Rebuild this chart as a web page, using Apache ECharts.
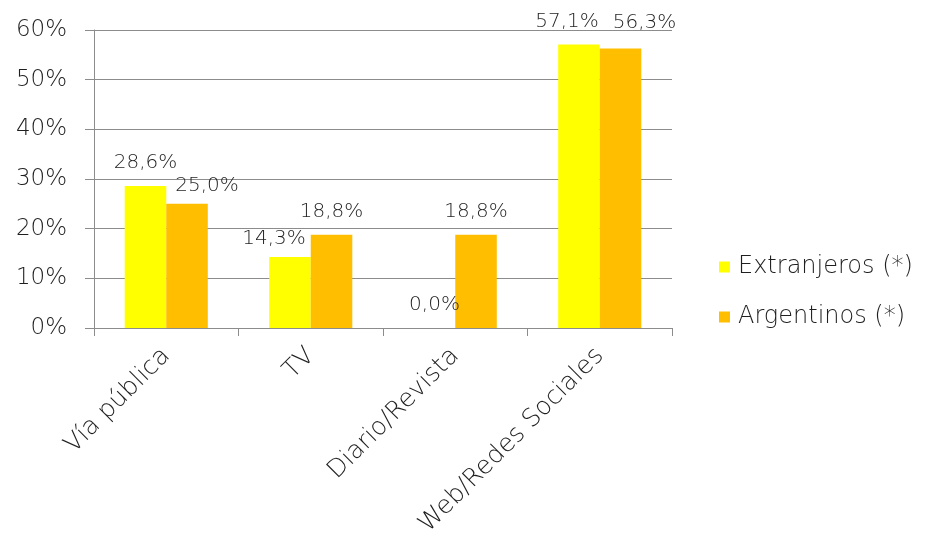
<!DOCTYPE html>
<html>
<head>
<meta charset="utf-8">
<script src="https://cdn.jsdelivr.net/npm/echarts@6/dist/echarts.min.js"></script>
<style>
  html, body { margin: 0; padding: 0; background: #fff; }
  #main { width: 929px; height: 554px; }
</style>
</head>
<body>
<div id="main"></div>
<script>
// datos del gráfico
const categories = ['Vía pública', 'TV', 'Diario/Revista', 'Web/Redes Sociales'];
const extranjeros = [28.6, 14.3, 0.0, 57.1];
const argentinos = [25.0, 18.8, 18.8, 56.3];
const yTicks = [0, 10, 20, 30, 40, 50, 60];

// desplazamiento de etiquetas (como en el original)
const extOffsets = [[0, 0], [-16, 5], [0, 0], [-12, 0]];
const argOffsets = [[20, 5], [0, 0], [0, 0], [24, -3]];

const FONT = 'DejaVu Sans';
const TXT = '#1f1f1f';
const W = 300;

const fmt = v => v.toFixed(1).replace('.', ',') + '%';

const buildData = (vals, offs) => vals.map((v, i) => ({
  value: v,
  label: { offset: offs[i] }
}));

const chartDom = document.getElementById('main');
const myChart = echarts.init(chartDom);

const labelStyle = {
  show: true,
  position: 'top',
  distance: 13,
  color: TXT,
  fontFamily: FONT,
  fontWeight: W,
  fontSize: 20,
  formatter: p => fmt(p.value)
};

const option = {
  animation: false,
  backgroundColor: '#fff',
  textStyle: { fontFamily: FONT },
  grid: { left: 94, right: 257, top: 30, bottom: 226 },
  legend: {
    orient: 'vertical',
    left: 714,
    top: 250,
    itemWidth: 11,
    itemHeight: 11,
    itemGap: 26,
    icon: 'rect',
    textStyle: { color: TXT, fontSize: 24, fontFamily: FONT, fontWeight: W, padding: [0, 0, 0, 3] },
    data: ['Extranjeros (*)', 'Argentinos (*)']
  },
  xAxis: {
    type: 'category',
    data: categories,
    axisLine: { lineStyle: { color: '#8c8c8c', width: 1 } },
    axisTick: { show: true, length: 8, lineStyle: { color: '#8c8c8c' } },
    axisLabel: {
      rotate: 45,
      margin: 24,
      color: TXT,
      fontSize: 25,
      fontFamily: FONT,
      fontWeight: W,
      interval: 0
    }
  },
  yAxis: {
    type: 'value',
    min: yTicks[0],
    max: yTicks[yTicks.length - 1],
    interval: 10,
    axisLine: { show: true, lineStyle: { color: '#8c8c8c' } },
    axisTick: { show: true, length: 9, lineStyle: { color: '#8c8c8c' } },
    splitLine: { lineStyle: { color: '#8c8c8c', width: 1 } },
    axisLabel: {
      margin: 27,
      color: TXT,
      fontSize: 23,
      fontFamily: FONT,
      fontWeight: W,
      formatter: '{value}%'
    }
  },
  series: [
    {
      name: 'Extranjeros (*)',
      type: 'bar',
      data: buildData(extranjeros, extOffsets),
      barGap: '0%',
      barCategoryGap: '42.5%',
      itemStyle: { color: '#ffff00' },
      label: labelStyle
    },
    {
      name: 'Argentinos (*)',
      type: 'bar',
      data: buildData(argentinos, argOffsets),
      itemStyle: { color: '#ffbf00' },
      label: labelStyle
    }
  ]
};

option && myChart.setOption(option);
</script>
</body>
</html>
